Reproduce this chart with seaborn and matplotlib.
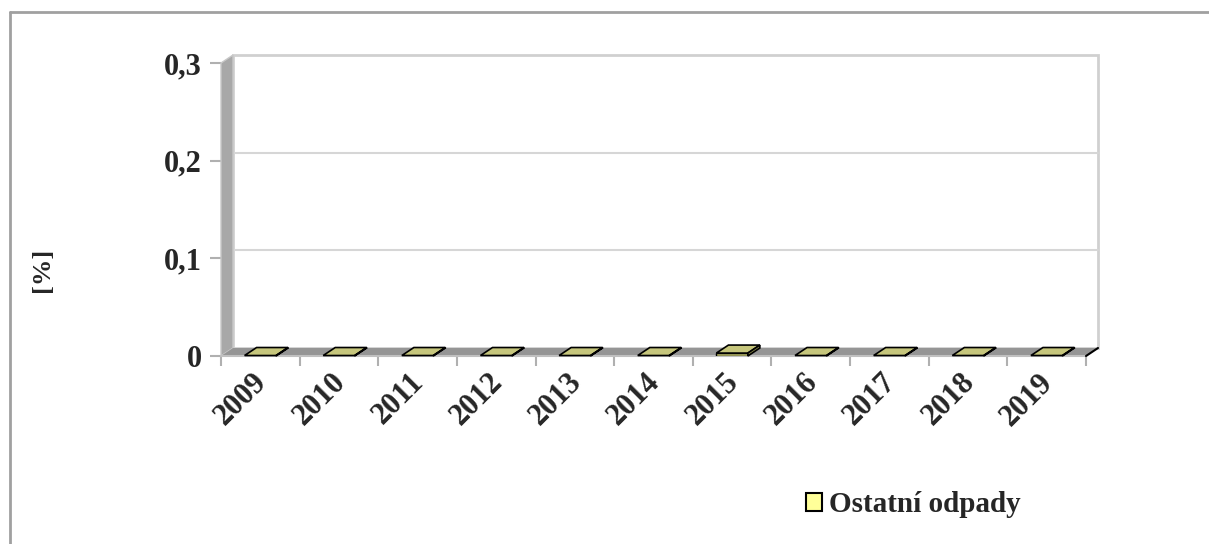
#!/usr/bin/env python3
"""3D-look column chart: Ostatni odpady [%] 2009-2019"""

import matplotlib
matplotlib.use('agg')
import matplotlib.pyplot as plt
import matplotlib.transforms as mtransforms
from matplotlib.patches import Polygon, Rectangle, Patch
from matplotlib.lines import Line2D

import seaborn as sns

years = ['2009', '2010', '2011', '2012', '2013', '2014', '2015',
         '2016', '2017', '2018', '2019']
values = [0.0005, 0.0005, 0.0005, 0.0005, 0.0005, 0.0005, 0.003,
          0.0005, 0.0005, 0.0005, 0.0005]
series_name = 'Ostatní odpady'
y_ticks = [0, 0.1, 0.2, 0.3]
y_tick_labels = ['0', '0,1', '0,2', '0,3']
y_label = '[%]'


def main():
    sns.set_style('white')
    plt.rcParams['font.family'] = ['Liberation Serif', 'DejaVu Serif']
    fig = plt.figure(figsize=(12.09, 5.44), dpi=100)
    W, H = 1209, 544
    # front plane of the 3D box
    ax = fig.add_axes([221 / W, (H - 356) / H, 865 / W, 293 / H])

    sns.barplot(x=years, y=values, ax=ax, width=0.4, color='#b8b86a',
                edgecolor='black', linewidth=1.0, saturation=1, zorder=3)
    ax.set_xlim(-0.5, len(years) - 0.5)
    ax.set_ylim(0, 0.3)

    # depth of the box in data units
    ddx = 12 / 78.6
    ddy = 8 / 293 * 0.3
    x0, x1 = ax.get_xlim()
    ytop = ax.get_ylim()[1]

    # back wall and gridlines
    ax.add_patch(Rectangle((x0 + ddx, ddy), x1 - x0, ytop, facecolor='white',
                           edgecolor='#d0d0d0', lw=2, clip_on=False, zorder=0))
    for t in y_ticks[1:-1]:
        ax.plot([x0 + ddx, x1 + ddx], [t + ddy, t + ddy], color='#d6d6d6',
                lw=1.5, clip_on=False, zorder=0.5)
    # left wall
    ax.add_patch(Polygon([(x0, 0), (x0, ytop), (x0 + ddx, ytop + ddy), (x0 + ddx, ddy)],
                         closed=True, facecolor='#a8a8a8', edgecolor='#c8c8c8',
                         lw=1, clip_on=False, zorder=1))
    # floor
    ax.add_patch(Polygon([(x0, 0), (x1, 0), (x1 + ddx, ddy), (x0 + ddx, ddy)],
                         closed=True, facecolor='#959595', edgecolor='none',
                         clip_on=False, zorder=1))
    ax.plot([x0, x1], [0, 0], color='#c0c0c0', lw=1.5, clip_on=False, zorder=1.5)
    ax.plot([x1, x1 + ddx], [0, ddy], color='black', lw=1.5, clip_on=False, zorder=1.5)

    # top and side faces of the columns
    for bar in ax.patches[:len(years)]:
        bx, bw, bh = bar.get_x(), bar.get_width(), bar.get_height()
        ax.add_patch(Polygon([(bx, bh), (bx + bw, bh), (bx + bw + ddx, bh + ddy), (bx + ddx, bh + ddy)],
                             closed=True, facecolor='#c6c67c', edgecolor='black',
                             lw=1.2, clip_on=False, zorder=4))
        ax.add_patch(Polygon([(bx + bw, 0), (bx + bw, bh), (bx + bw + ddx, bh + ddy), (bx + bw + ddx, ddy)],
                             closed=True, facecolor='#8a8a4a', edgecolor='black',
                             lw=1.2, clip_on=False, zorder=4))

    sns.despine(ax=ax, left=True, bottom=True)
    ax.set_facecolor('none')
    ax.set_yticks(y_ticks)
    ax.set_yticklabels(y_tick_labels, fontsize=22, fontweight='bold')
    ax.tick_params(axis='y', length=8, width=1.5, color='#b0b0b0', pad=6, left=True)
    ax.set_xticks(range(len(years)))
    ax.set_xticklabels(years, fontsize=22, fontweight='bold', rotation=45,
                       ha='right', va='top', rotation_mode='anchor')
    ax.tick_params(axis='x', length=0, pad=10)
    shift = mtransforms.ScaledTranslation(-0.08, 0.02, fig.dpi_scale_trans)
    for lbl in ax.get_xticklabels():
        lbl.set_transform(lbl.get_transform() + shift)
    ax.set_xticks([i - 0.5 for i in range(len(years) + 1)], minor=True)
    ax.tick_params(axis='x', which='minor', length=7, width=1.5, color='#b0b0b0', bottom=True)
    ax.set_xlabel('')
    ax.grid(False)

    fig.text(42 / W, 1 - 270 / H, y_label, rotation=90, fontsize=19,
             fontweight='bold', ha='center', va='center')

    handle = Patch(facecolor='#ffff99', edgecolor='black', linewidth=1.5, label=series_name)
    fig.legend(handles=[handle], loc='center', bbox_to_anchor=(913 / W, 1 - 505 / H),
               frameon=False, prop={'size': 21, 'weight': 'bold'},
               handlelength=0.55, handleheight=0.55, handletextpad=0.25)

    # outer chart border (top and left)
    fig.add_artist(Line2D([10 / W, 1], [1 - 12 / H, 1 - 12 / H], color='#a0a0a0', lw=2))
    fig.add_artist(Line2D([10 / W, 10 / W], [0, 1 - 12 / H], color='#a0a0a0', lw=2))

    fig.savefig('out.png', dpi=100)


if __name__ == '__main__':
    main()
